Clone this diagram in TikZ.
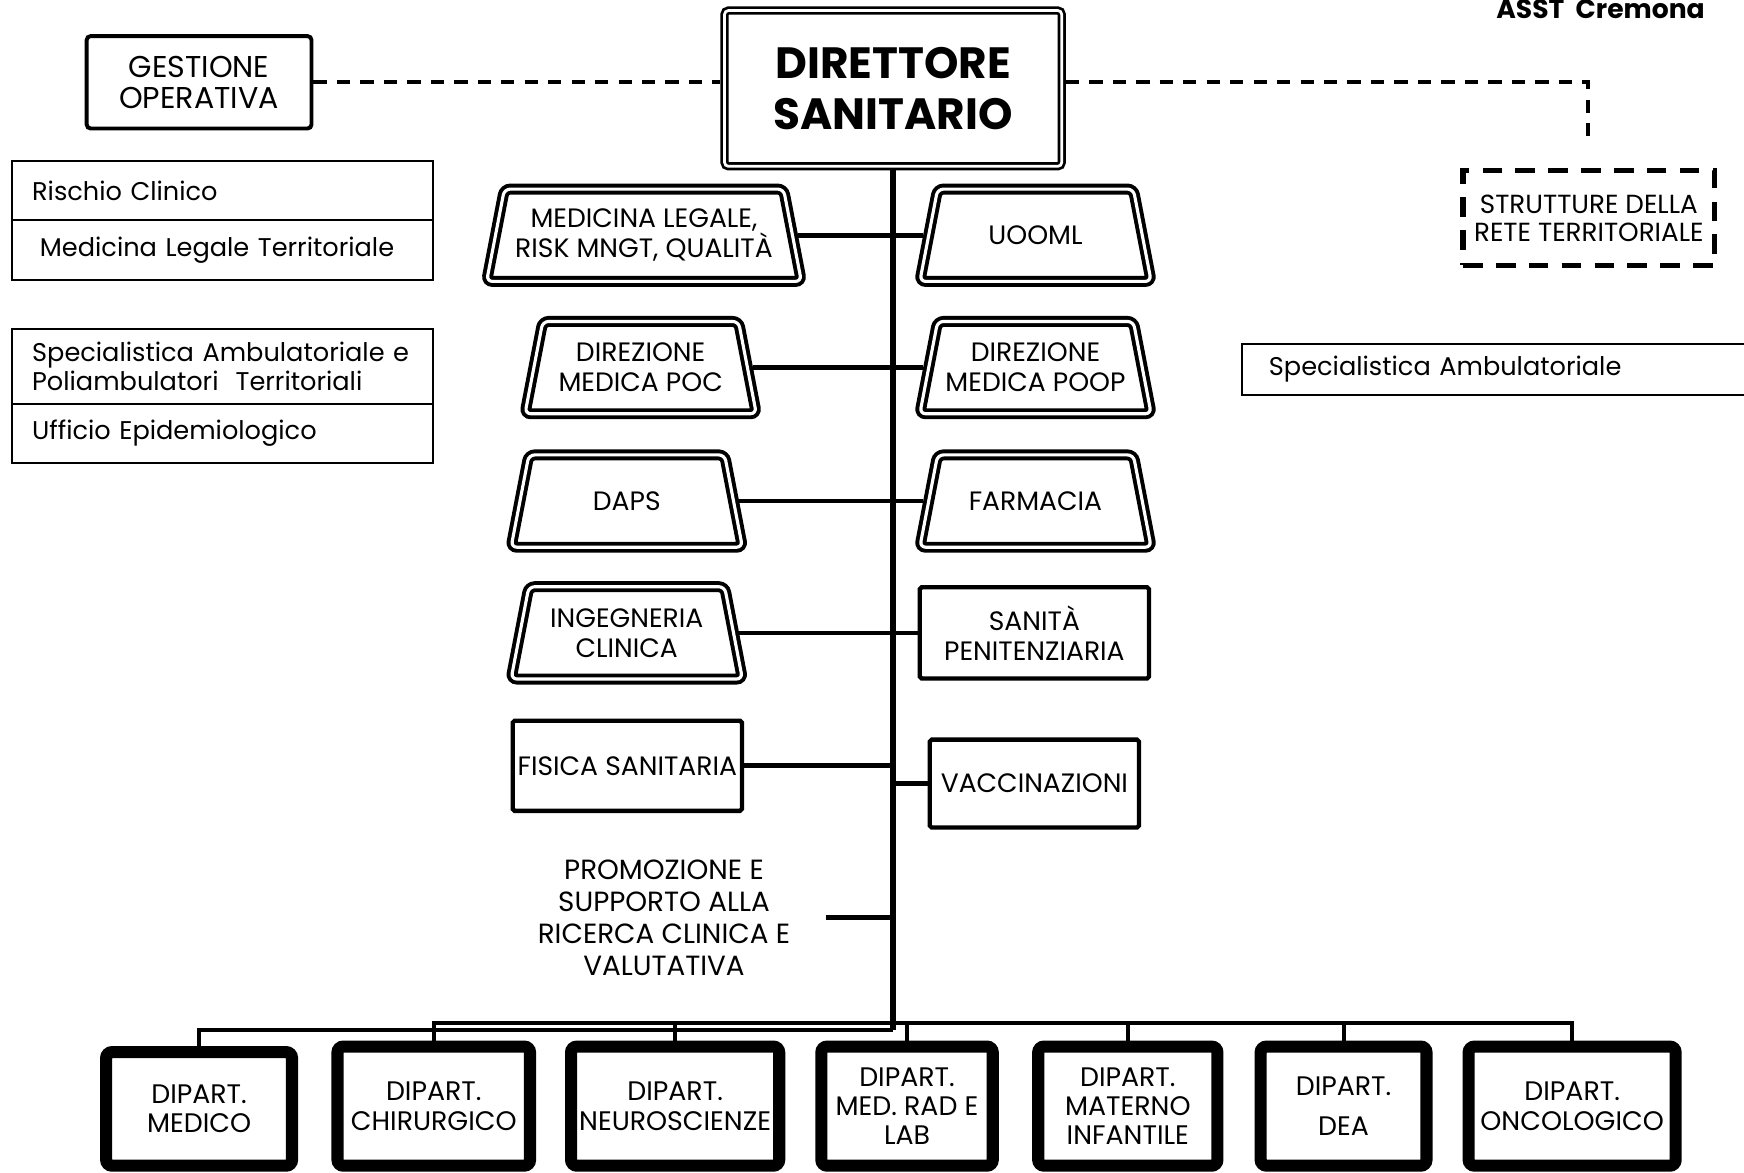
\documentclass[tikz,border=0pt]{standalone}
\usepackage{fontspec}
\setmainfont{Poppins}
\usetikzlibrary{calc}

% double-lined trapezoid around a named node: name, half mid-width, half height, half slant
\newcommand\trapframe[4]{%
  \draw[trapline] ($(#1.center)+(-#2-#4,#3)$) -- ($(#1.center)+(-#2+#4,-#3)$)
    -- ($(#1.center)+(#2-#4,-#3)$) -- ($(#1.center)+(#2+#4,#3)$) -- cycle;}

\begin{document}
\begin{tikzpicture}[x=0.01cm,y=-0.01cm,
  every node/.style={font=\fontsize{6.8}{7.7}\selectfont, align=center, inner sep=0pt, outer sep=0pt},
  headbox/.style={draw, line width=0.7pt, double, double distance=0.7pt, rounded corners=1pt,
    minimum width=3.03cm, minimum height=1.40cm, outer sep=1.05pt,
    font=\fontsize{11.2}{13}\selectfont\bfseries},
  opbox/.style={draw, line width=1pt, rounded corners=1pt, outer sep=0.5pt,
    font=\fontsize{7.7}{8}\selectfont},
  listbox/.style={draw, line width=0.5pt, align=left, inner xsep=0.18cm, text width=3.42cm,
    font=\fontsize{6.55}{7.4}\selectfont},
  trapbox/.style={minimum width=1.92cm, minimum height=0.83cm, outer sep=1.4pt},
  trapline/.style={line width=1pt, double, double distance=0.8pt, rounded corners=1.5pt},
  unitbox/.style={draw, line width=1.1pt, outer sep=0.55pt, rounded corners=0.5pt},
  deptbox/.style={draw, line width=3.1pt, rounded corners=1.5pt, minimum height=1.07cm,
    outer sep=1.55pt, font=\fontsize{6.85}{7.5}\selectfont},
  dashbox/.style={draw, line width=1.4pt, dash pattern=on 5pt off 3.4pt},
  link/.style={line width=1.2pt},
  spine/.style={line width=1.5pt},
  bus/.style={line width=1pt},
  dashlink/.style={line width=1pt, dash pattern=on 3.4pt off 2.6pt}
]
\useasboundingbox (0,0) rectangle (1568,1054);

% header
\node[font=\fontsize{6.8}{8}\selectfont\bfseries, anchor=base] (asst) at (1439,17) {ASST\ \ Cremona};
\node[headbox] (dir) at (803,79.5) {DIRETTORE\\SANITARIO};
\node[opbox, minimum width=2.02cm, minimum height=0.83cm] (gest) at (179,74) {GESTIONE\\OPERATIVA};
\node[dashbox, minimum width=2.26cm, minimum height=0.85cm, font=\fontsize{6.7}{7.2}\selectfont]
  (strut) at (1428.5,196) {STRUTTURE DELLA\\RETE TERRITORIALE};

% side lists
\node[listbox, minimum height=0.53cm] (rc) at (200,171.5) {Rischio Clinico};
\node[listbox, minimum height=0.54cm] (mlt) at (200,225) {\hspace{0.07cm}Medicina Legale Territoriale};
\node[listbox, minimum height=0.67cm] (spt) at (200,329.5)
  {\makebox[3.41cm][s]{Specialistica Ambulatoriale e}\\Poliambulatori\ \ Territoriali};
\node[listbox, minimum height=0.53cm] (epi) at (200,389.5) {Ufficio Epidemiologico};
\node[listbox, text width=4.15cm, inner xsep=0.24cm, minimum height=0.46cm] (spa) at (1348.5,332)
  {Specialistica Ambulatoriale};

% staff units
\node[trapbox, minimum width=2.67cm] (mlr) at (579,211.5) {MEDICINA LEGALE,\\RISK MNGT, QUALITÀ};
\node[trapbox] (uooml) at (931,211.5) {UOOML};
\node[trapbox] (poc) at (576,330.5) {DIREZIONE\\MEDICA POC};
\node[trapbox] (poop) at (931,330.5) {DIREZIONE\\MEDICA POOP};
\node[trapbox] (daps) at (563.5,450.5) {DAPS};
\node[trapbox] (farm) at (931,450.5) {FARMACIA};
\node[trapbox] (ing) at (563.5,569) {INGEGNERIA\\CLINICA};
\trapframe{mlr}{133.5}{41.5}{8}
\trapframe{uooml}{96}{41.5}{8}
\trapframe{poc}{96}{41.5}{8}
\trapframe{poop}{96}{41.5}{8}
\trapframe{daps}{96}{41.5}{8}
\trapframe{farm}{96}{41.5}{8}
\trapframe{ing}{96}{41.5}{8}
\node[unitbox, minimum width=2.06cm, minimum height=0.82cm] (pen) at (930,569) {SANITÀ\\PENITENZIARIA};
\node[unitbox, minimum width=2.06cm, minimum height=0.81cm] (fis) at (564,688.5) {FISICA SANITARIA};
\node[unitbox, minimum width=1.88cm, minimum height=0.79cm] (vac) at (930,704.5) {VACCINAZIONI};
\node[minimum width=2.92cm, font=\fontsize{7.1}{8.2}\selectfont] (promo) at (597,825)
  {PROMOZIONE E\\SUPPORTO ALLA\\RICERCA CLINICA E\\VALUTATIVA};

% departments
\node[deptbox, minimum width=1.67cm, minimum height=1.02cm] (dmed) at (179,997) {DIPART.\\MEDICO};
\node[deptbox, minimum width=1.73cm] (dchir) at (390,994.5) {DIPART.\\CHIRURGICO};
\node[deptbox, minimum width=1.87cm] (dneu) at (607,994.5) {DIPART.\\NEUROSCIENZE};
\node[deptbox, minimum width=1.54cm] (drad) at (815.5,994.5) {DIPART.\\MED. RAD E\\LAB};
\node[deptbox, minimum width=1.61cm] (dmat) at (1014,994.5) {DIPART.\\MATERNO\\INFANTILE};
\node[deptbox, minimum width=1.49cm] (ddea) at (1208,994.5) {DIPART.\\[2.6pt]DEA};
\node[deptbox, minimum width=1.86cm] (donc) at (1413.5,994.5) {DIPART.\\ONCOLOGICO};

% dashed staff links
\coordinate (sdrop) at (1428,130);
\draw[dashlink] (gest.east) -- (gest.east -| dir.west);
\draw[dashlink] (gest.east -| dir.east) -| (sdrop);

% spine and branches
\coordinate (spineend) at (803,926);
\coordinate (busA) at (803,920);
\draw[spine] (dir.south) -- (spineend);
\draw[link] (mlr.east) -- (uooml.west);
\draw[link] (poc.east) -- (poop.west);
\draw[link] (daps.east) -- (farm.west);
\draw[link] (ing.east) -- (pen.west);
\draw[link] (fis.east) -- (fis.east -| spineend);
\draw[link] (vac.west) -- (vac.west -| spineend);
\draw[link] (promo.east) -- (promo.east -| spineend);

% department bus
\draw[bus] (dmed.north) |- (spineend);
\draw[bus] (dchir.north) |- (busA) -| (donc.north);
\draw[bus] (dneu.north) -- (dneu.north |- busA);
\draw[bus] (drad.north) -- (drad.north |- busA);
\draw[bus] (dmat.north) -- (dmat.north |- busA);
\draw[bus] (ddea.north) -- (ddea.north |- busA);
\end{tikzpicture}
\end{document}
